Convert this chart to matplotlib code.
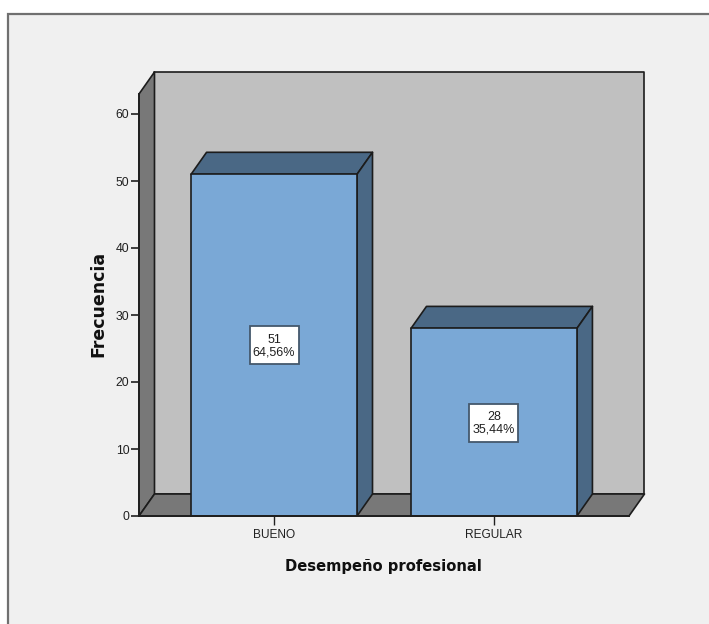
import matplotlib
matplotlib.use("Agg")
import matplotlib.pyplot as plt
from matplotlib.patches import Polygon, Rectangle

categories = ["BUENO", "REGULAR"]
frecuencia = [51, 28]
porcentaje = ["64,56%", "35,44%"]
yticks = [0, 10, 20, 30, 40, 50, 60]

W, H = 709, 624
plt.rcParams['font.family'] = ['Liberation Sans', 'DejaVu Sans']

fig = plt.figure(figsize=(W/100, H/100), dpi=100, facecolor="white")

# panel de fondo
fig.add_artist(Rectangle((8/W, -0.02), 1.0, (H-14)/H + 0.02, transform=fig.transFigure,
                         facecolor="#f0f0f0", edgecolor="#707070", lw=1.6, zorder=-1))

ax = fig.add_axes([139/W, (H-516)/H, 490/W, 422/H])
ax.set_xlim(-0.614, 1.614)
ax.set_ylim(0, 422/6.7)
ax.patch.set_visible(False)
for s in ["top", "right"]:
    ax.spines[s].set_visible(False)
for s in ["left", "bottom"]:
    ax.spines[s].set_color("#202020")
    ax.spines[s].set_linewidth(1.4)

# profundidad 3D
dx = 15.5/220
dy = 22/6.7
x0, x1 = ax.get_xlim()
y0, y1 = ax.get_ylim()
edge = "#1c1c1c"

def cara(pts, color):
    ax.add_patch(Polygon(pts, closed=True, facecolor=color, edgecolor=edge,
                         lw=1.2, clip_on=False, joinstyle="round"))

cara([(x0+dx, y0+dy), (x1+dx, y0+dy), (x1+dx, y1+dy), (x0+dx, y1+dy)], "#c0c0c0")
cara([(x0, y0), (x0+dx, y0+dy), (x0+dx, y1+dy), (x0, y1)], "#787878")
cara([(x0, y0), (x1, y0), (x1+dx, y0+dy), (x0+dx, y0+dy)], "#787878")

ancho = 166/220
caja_w = 49/220
caja_h = 38/6.7
for i, v in enumerate(frecuencia):
    a = i - ancho/2
    b = i + ancho/2
    cara([(a, v), (b, v), (b+dx, v+dy), (a+dx, v+dy)], "#4a6885")
    cara([(b, 0), (b+dx, dy), (b+dx, v+dy), (b, v)], "#4a6885")
    cara([(a, 0), (b, 0), (b, v), (a, v)], "#7aa8d6")
    # etiqueta centrada en la barra
    yc = v/2 - 0.05
    ax.add_patch(Rectangle((i - caja_w/2, yc - caja_h/2), caja_w, caja_h, facecolor="white",
                           edgecolor="#44586c", lw=1.3, zorder=4))
    ax.text(i, yc - 0.1, f"{v}\n{porcentaje[i]}", ha="center", va="center",
            fontsize=9, color="#202020", linespacing=1.05, zorder=5)

ax.set_xticks(range(len(categories)))
ax.set_xticklabels(categories, fontsize=8.6, color="#202020")
ax.set_yticks(yticks)
ax.tick_params(axis="x", length=6.5, width=1, color="#202020", pad=3)
ax.tick_params(axis="y", length=6, width=1.2, color="#202020", pad=1, labelsize=8.8, labelcolor="#202020")

fig.text(383/W, 1-566/H, "Desempeño profesional", ha="center", va="center",
         fontsize=10.6, fontweight="bold", color="#101010", family="DejaVu Sans")
fig.text(98/W, 1-303.5/H, "Frecuencia", ha="center", va="center", rotation=90,
         fontsize=12.5, fontweight="bold", color="#101010", family="DejaVu Sans")

fig.savefig("out.png", dpi=100, facecolor="white")
